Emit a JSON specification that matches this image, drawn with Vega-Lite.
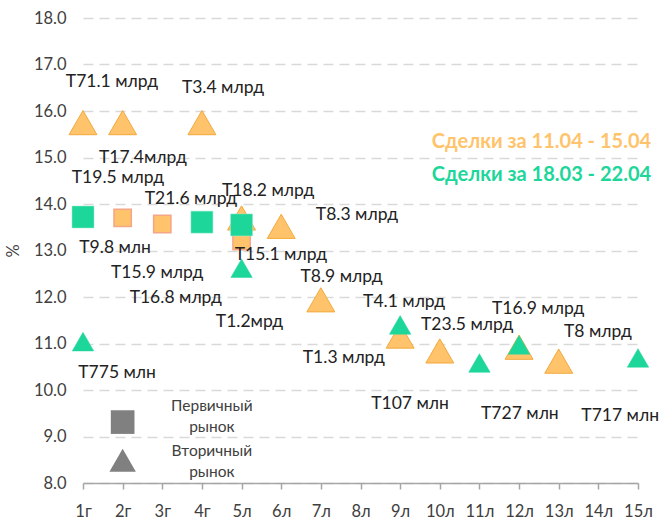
{
  "$schema": "https://vega.github.io/schema/vega-lite/v6.json",
  "width": 555,
  "height": 465,
  "autosize": "none",
  "padding": {"left": 83, "top": 18, "right": 22, "bottom": 37},
  "background": "white",
  "config": {"view": {"stroke": null}, "font": "Lato"},
  "datasets": {
    "points": [
      {"x": 1, "y": 15.75, "period": "11.04-15.04", "market": "secondary"},
      {"x": 2, "y": 15.75, "period": "11.04-15.04", "market": "secondary"},
      {"x": 4, "y": 15.75, "period": "11.04-15.04", "market": "secondary"},
      {"x": 5, "y": 13.7, "period": "11.04-15.04", "market": "secondary"},
      {"x": 6, "y": 13.52, "period": "11.04-15.04", "market": "secondary"},
      {"x": 7, "y": 11.94, "period": "11.04-15.04", "market": "secondary"},
      {"x": 9, "y": 11.16, "period": "11.04-15.04", "market": "secondary"},
      {"x": 10, "y": 10.84, "period": "11.04-15.04", "market": "secondary"},
      {"x": 12, "y": 10.92, "period": "11.04-15.04", "market": "secondary"},
      {"x": 13, "y": 10.62, "period": "11.04-15.04", "market": "secondary"},
      {"x": 2, "y": 13.7, "period": "11.04-15.04", "market": "primary"},
      {"x": 3, "y": 13.57, "period": "11.04-15.04", "market": "primary"},
      {"x": 5, "y": 13.2, "period": "11.04-15.04", "market": "primary"},
      {"x": 1, "y": 11.04, "period": "18.03-22.04", "market": "secondary"},
      {"x": 5, "y": 12.62, "period": "18.03-22.04", "market": "secondary"},
      {"x": 9, "y": 11.4, "period": "18.03-22.04", "market": "secondary"},
      {"x": 11, "y": 10.58, "period": "18.03-22.04", "market": "secondary"},
      {"x": 12, "y": 10.97, "period": "18.03-22.04", "market": "secondary"},
      {"x": 15, "y": 10.69, "period": "18.03-22.04", "market": "secondary"},
      {"x": 1, "y": 13.72, "period": "18.03-22.04", "market": "primary"},
      {"x": 4, "y": 13.61, "period": "18.03-22.04", "market": "primary"},
      {"x": 5, "y": 13.55, "period": "18.03-22.04", "market": "primary"},
      {"x": 2, "y": 9.31, "period": "legend", "market": "primary"},
      {"x": 2, "y": 8.49, "period": "legend", "market": "secondary"}
    ],
    "labels": [
      {"x": 1.73, "y": 16.62, "text": "T71.1 млрд"},
      {"x": 4.53, "y": 16.49, "text": "T3.4 млрд"},
      {"x": 2.51, "y": 14.99, "text": "T17.4млрд"},
      {"x": 1.88, "y": 14.56, "text": "T19.5 млрд"},
      {"x": 3.72, "y": 14.11, "text": "T21.6 млрд"},
      {"x": 5.67, "y": 14.28, "text": "T18.2 млрд"},
      {"x": 7.91, "y": 13.76, "text": "T8.3 млрд"},
      {"x": 1.81, "y": 13.05, "text": "T9.8 млн"},
      {"x": 5.99, "y": 12.9, "text": "T15.1 млрд"},
      {"x": 2.87, "y": 12.52, "text": "T15.9 млрд"},
      {"x": 3.34, "y": 11.98, "text": "T16.8 млрд"},
      {"x": 5.2, "y": 11.46, "text": "T1.2мрд"},
      {"x": 7.52, "y": 12.43, "text": "T8.9 млрд"},
      {"x": 9.1, "y": 11.89, "text": "T4.1 млрд"},
      {"x": 7.58, "y": 10.69, "text": "T1.3 млрд"},
      {"x": 10.69, "y": 11.4, "text": "T23.5 млрд"},
      {"x": 12.48, "y": 11.74, "text": "T16.9 млрд"},
      {"x": 13.99, "y": 11.25, "text": "T8 млрд"},
      {"x": 1.86, "y": 10.37, "text": "T775 млн"},
      {"x": 9.25, "y": 9.7, "text": "T107 млн"},
      {"x": 12.02, "y": 9.48, "text": "T727 млн"},
      {"x": 14.55, "y": 9.44, "text": "T717 млн"}
    ],
    "legendText": [
      {"x": 4.25, "y": 9.66, "text": "Первичный"},
      {"x": 4.25, "y": 9.2, "text": "рынок"},
      {"x": 4.25, "y": 8.68, "text": "Вторичный"},
      {"x": 4.25, "y": 8.23, "text": "рынок"}
    ],
    "headers": [
      {"x": 15.33, "y": 15.33, "text": "Сделки за 11.04 - 15.04", "period": "11.04-15.04"},
      {"x": 15.33, "y": 14.62, "text": "Сделки за 18.03 - 22.04", "period": "18.03-22.04"}
    ]
  },
  "encoding": {
    "x": {
      "field": "x", "type": "quantitative",
      "scale": {"domain": [1, 15], "nice": false, "zero": false},
      "axis": {
        "values": [1,2,3,4,5,6,7,8,9,10,11,12,13,14,15],
        "labelExpr": "datum.value <= 4 ? datum.value + 'г' : datum.value + 'л'",
        "title": null, "grid": false,
        "domainColor": "#a6a6a6", "domainWidth": 1.5,
        "tickColor": "#a6a6a6", "tickSize": 6, "tickWidth": 1.5,
        "labelFont": "Lato", "labelFontSize": 16.5, "labelColor": "#404040",
        "labelPadding": 14, "labelFlush": false
      }
    },
    "y": {
      "field": "y", "type": "quantitative",
      "scale": {"domain": [8, 18], "nice": false, "zero": false},
      "axis": {
        "values": [8,9,10,11,12,13,14,15,16,17,18],
        "format": ".1f",
        "title": "%", "titleFont": "Lato", "titleFontSize": 16.5, "titleFontWeight": "normal", "titleColor": "#404040", "titlePadding": 12,
        "domain": false, "ticks": false,
        "grid": true, "gridColor": "#d9d9d9", "gridDash": [10, 6], "gridWidth": 1.5,
        "labelFont": "Lato", "labelFontSize": 16.5, "labelColor": "#404040", "labelPadding": 17
      }
    }
  },
  "layer": [
    {
      "data": {"name": "points"},
      "transform": [{"filter": "datum.period == '11.04-15.04' && datum.market == 'secondary'"}],
      "mark": {"type": "point", "shape": "triangle-up", "filled": true, "size": 780, "fill": "#FFC46B", "stroke": "#F2A93B", "strokeWidth": 1, "opacity": 1}
    },
    {
      "data": {"name": "points"},
      "transform": [{"filter": "datum.period == '11.04-15.04' && datum.market == 'primary'"}],
      "mark": {"type": "point", "shape": "square", "filled": true, "size": 300, "fill": "#FFC46B", "stroke": "#F4A688", "strokeWidth": 1.5, "opacity": 1}
    },
    {
      "data": {"name": "points"},
      "transform": [{"filter": "datum.period == '18.03-22.04' && datum.market == 'secondary'"}],
      "mark": {"type": "point", "shape": "triangle-up", "filled": true, "size": 460, "fill": "#1DD69A", "stroke": "#1DD69A", "strokeWidth": 0.5, "opacity": 1}
    },
    {
      "data": {"name": "points"},
      "transform": [{"filter": "datum.period == '18.03-22.04' && datum.market == 'primary'"}],
      "mark": {"type": "point", "shape": "square", "filled": true, "size": 484, "fill": "#1DD69A", "stroke": "#9EEBD0", "strokeWidth": 0.5, "opacity": 1}
    },
    {
      "data": {"name": "points"},
      "transform": [{"filter": "datum.period == 'legend' && datum.market == 'primary'"}],
      "mark": {"type": "point", "shape": "square", "filled": true, "size": 560, "fill": "#808080", "opacity": 1}
    },
    {
      "data": {"name": "points"},
      "transform": [{"filter": "datum.period == 'legend' && datum.market == 'secondary'"}],
      "mark": {"type": "point", "shape": "triangle-up", "filled": true, "size": 700, "fill": "#808080", "opacity": 1}
    },
    {
      "data": {"name": "labels"},
      "mark": {"type": "text", "font": "Lato", "fontSize": 17.5, "color": "#222222", "align": "center", "baseline": "middle"},
      "encoding": {"text": {"field": "text"}}
    },
    {
      "data": {"name": "legendText"},
      "mark": {"type": "text", "font": "Lato", "fontSize": 15.5, "color": "#404040", "align": "center", "baseline": "middle"},
      "encoding": {"text": {"field": "text"}}
    },
    {
      "data": {"name": "headers"},
      "mark": {"type": "text", "font": "Lato", "fontSize": 20, "fontWeight": "bold", "align": "right", "baseline": "middle"},
      "encoding": {
        "text": {"field": "text"},
        "color": {"field": "period", "type": "nominal", "scale": {"domain": ["11.04-15.04", "18.03-22.04"], "range": ["#FFC46B", "#1DD69A"]}, "legend": null}
      }
    }
  ]
}
